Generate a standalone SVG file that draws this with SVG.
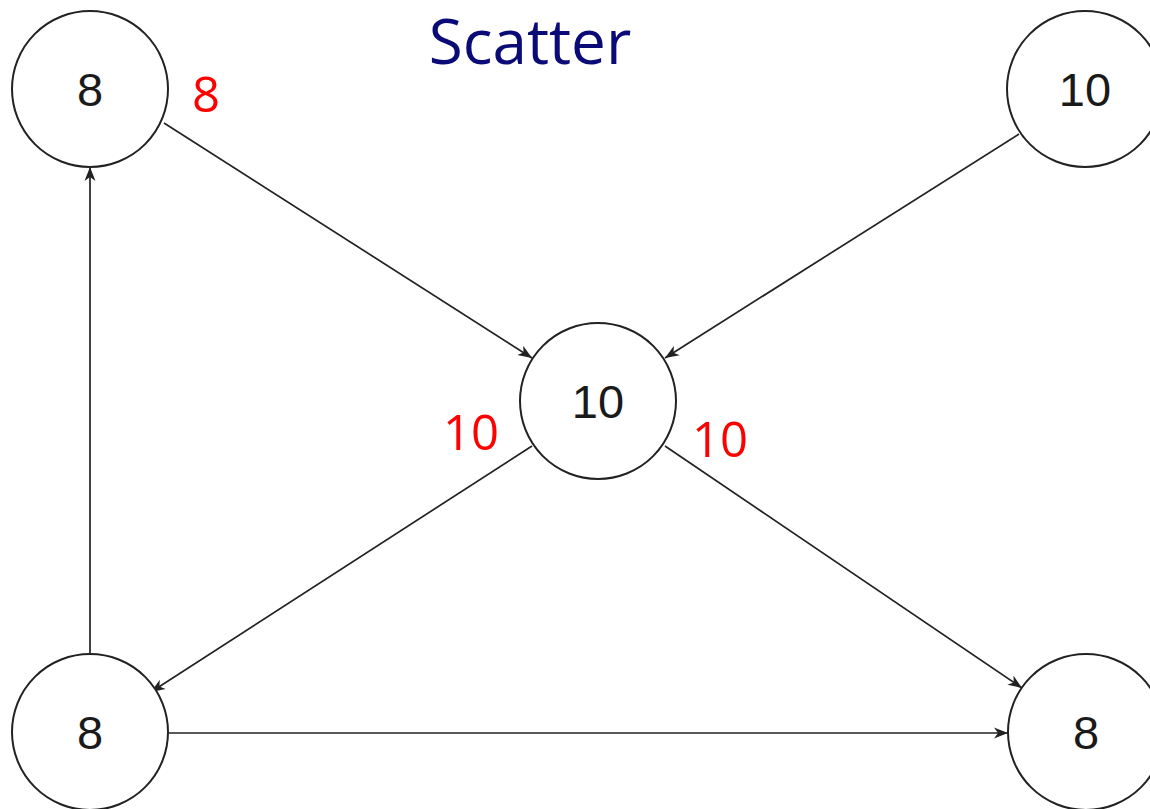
<svg xmlns="http://www.w3.org/2000/svg" width="1150" height="809" viewBox="0 0 1150 809">
<defs>
<style>
.node circle{fill:#fff;stroke:#222;stroke-width:2}
.node text{font-family:"Liberation Sans",Arial,sans-serif;font-size:47px;fill:#1a1a1a;text-anchor:middle}
.edge{stroke:#222;stroke-width:1.7;fill:none;marker-end:url(#arr)}
.lbl{font-family:"Open Sans","Noto Sans",sans-serif;font-size:49px;fill:#ff0000;text-anchor:middle}
.title{font-family:"Open Sans","Noto Sans",sans-serif;font-size:62px;fill:#0b0b78;text-anchor:middle}
</style>
<marker id="arr" markerUnits="userSpaceOnUse" markerWidth="16" markerHeight="12" refX="14" refY="6" orient="auto" viewBox="0 0 16 12">
<path d="M0,0.5 L14,6 L0,11.5 L4,6 Z" fill="#222"/>
</marker>
</defs>
<rect width="1150" height="809" fill="#fff"/>
<text class="title" x="530" y="64">Scatter</text>
<g id="connectors">
<line class="edge" x1="164" y1="123" x2="532" y2="358"/>
<line class="edge" x1="1019" y1="134" x2="665" y2="358"/>
<line class="edge" x1="532" y1="446" x2="151" y2="692"/>
<line class="edge" x1="665" y1="446" x2="1022" y2="688"/>
<line class="edge" x1="90" y1="654" x2="90" y2="167"/>
<line class="edge" x1="169" y1="733" x2="1008" y2="733"/>
</g>
<g id="n-tl" class="node"><circle cx="90" cy="89" r="78"/><text x="90" y="106">8</text></g>
<g id="n-tr" class="node"><circle cx="1085" cy="89" r="78"/><text x="1085" y="106">10</text></g>
<g id="n-mid" class="node"><circle cx="598" cy="401" r="78"/><text x="598" y="418">10</text></g>
<g id="n-bl" class="node"><circle cx="90" cy="732" r="78"/><text x="90" y="749">8</text></g>
<g id="n-br" class="node"><circle cx="1086" cy="732" r="78"/><text x="1086" y="749">8</text></g>
<text class="lbl" x="206" y="112">8</text>
<text class="lbl" x="471" y="450">10</text>
<text class="lbl" x="720" y="457">10</text>
</svg>
